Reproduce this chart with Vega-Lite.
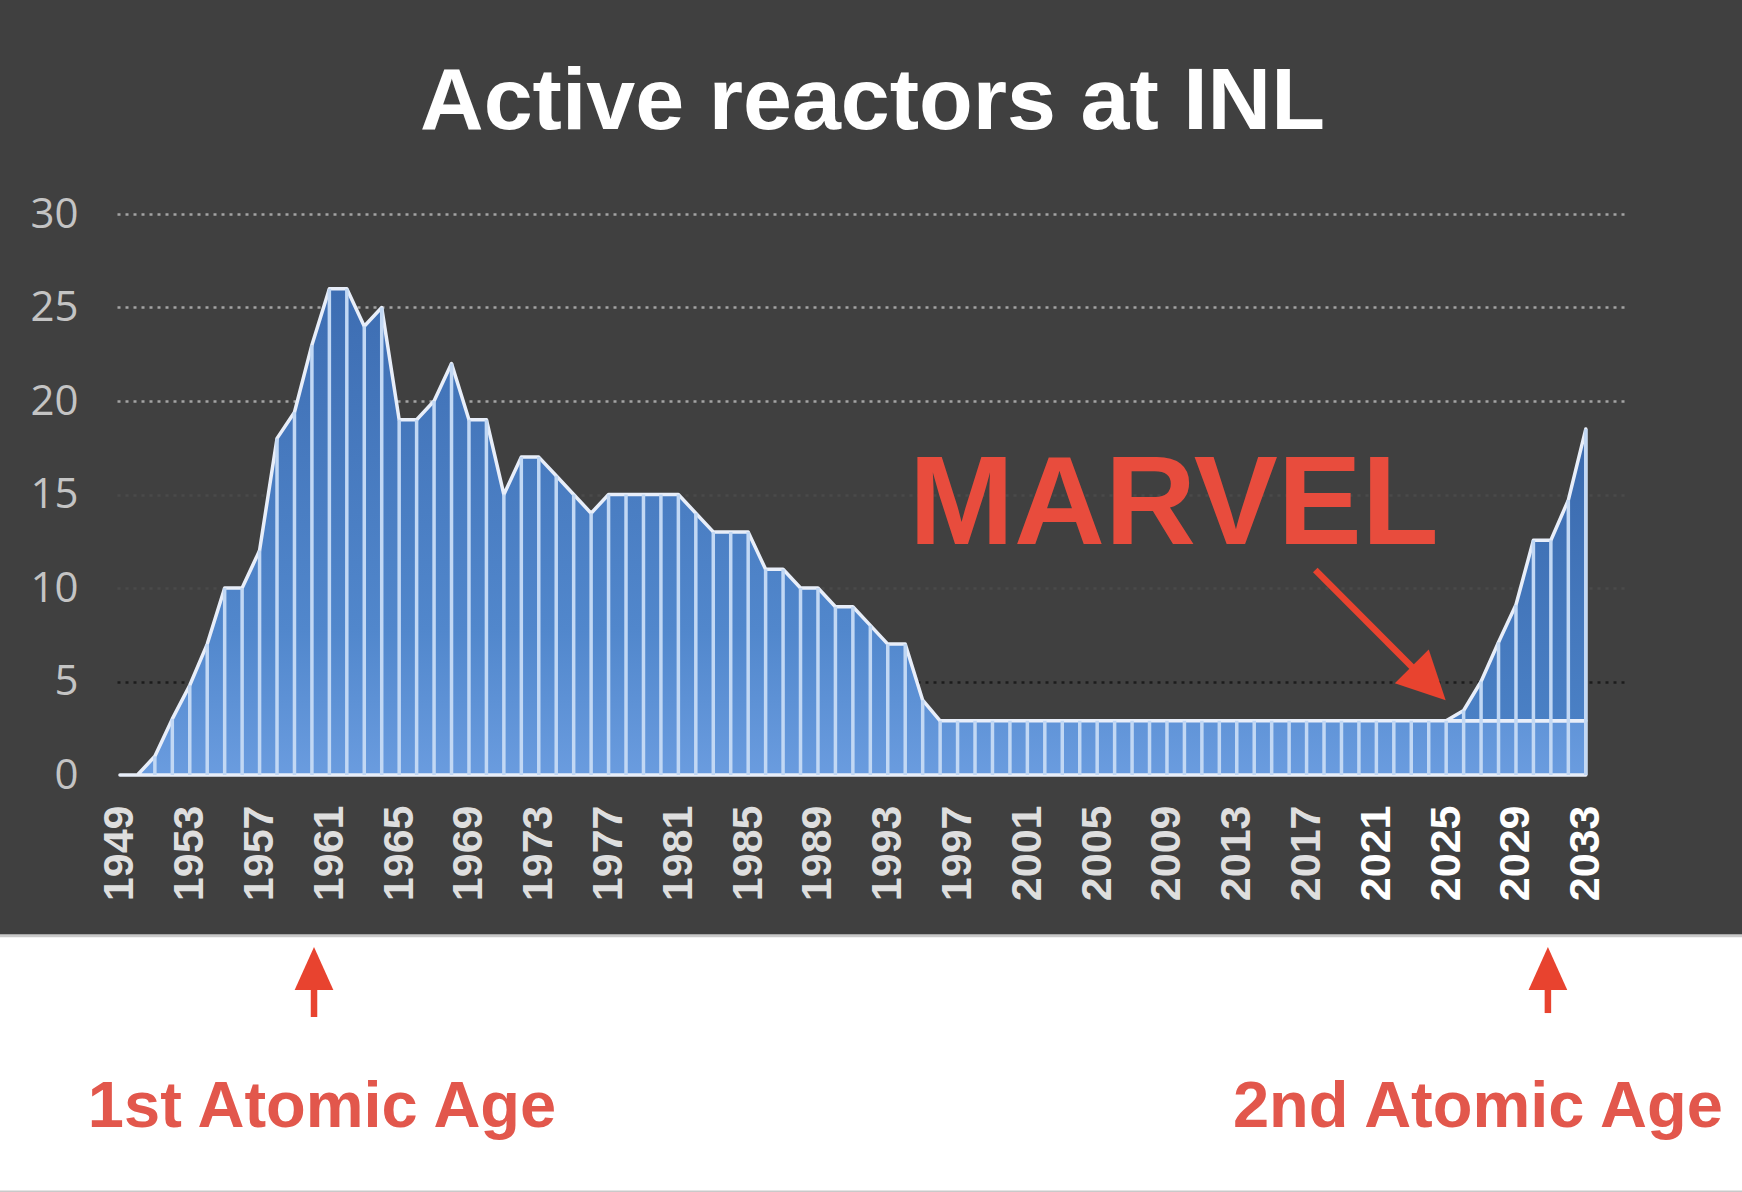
{
  "$schema": "https://vega.github.io/schema/vega-lite/v6.json",
  "description": "Active reactors at INL, 1949-2033, with the MARVEL start and the two atomic ages marked.",
  "width": 1511,
  "height": 561,
  "autosize": {"type": "none"},
  "padding": {"left": 117, "top": 214, "right": 114, "bottom": 417},
  "background": "#404040",
  "config": {"view": {"stroke": null}, "font": "Liberation Sans"},
  "title": {
    "text": "Active reactors at INL",
    "font": "Liberation Sans",
    "fontSize": 88,
    "fontWeight": "bold",
    "color": "#ffffff",
    "anchor": "middle",
    "frame": "group",
    "baseline": "alphabetic",
    "offset": -24
  },
  "resolve": {"axis": {"y": "independent"}},
  "datasets": {
    "reactors": [
      {"year": 1949, "total": 0, "base": 0},
      {"year": 1950, "total": 0, "base": 0},
      {"year": 1951, "total": 1, "base": 1},
      {"year": 1952, "total": 3, "base": 3},
      {"year": 1953, "total": 4.8, "base": 4.8},
      {"year": 1954, "total": 7, "base": 7},
      {"year": 1955, "total": 10, "base": 10},
      {"year": 1956, "total": 10, "base": 10},
      {"year": 1957, "total": 12, "base": 12},
      {"year": 1958, "total": 18, "base": 18},
      {"year": 1959, "total": 19.4, "base": 19.4},
      {"year": 1960, "total": 23, "base": 23},
      {"year": 1961, "total": 26, "base": 26},
      {"year": 1962, "total": 26, "base": 26},
      {"year": 1963, "total": 24, "base": 24},
      {"year": 1964, "total": 25, "base": 25},
      {"year": 1965, "total": 19, "base": 19},
      {"year": 1966, "total": 19, "base": 19},
      {"year": 1967, "total": 20, "base": 20},
      {"year": 1968, "total": 22, "base": 22},
      {"year": 1969, "total": 19, "base": 19},
      {"year": 1970, "total": 19, "base": 19},
      {"year": 1971, "total": 15, "base": 15},
      {"year": 1972, "total": 17, "base": 17},
      {"year": 1973, "total": 17, "base": 17},
      {"year": 1974, "total": 16, "base": 16},
      {"year": 1975, "total": 15, "base": 15},
      {"year": 1976, "total": 14, "base": 14},
      {"year": 1977, "total": 15, "base": 15},
      {"year": 1978, "total": 15, "base": 15},
      {"year": 1979, "total": 15, "base": 15},
      {"year": 1980, "total": 15, "base": 15},
      {"year": 1981, "total": 15, "base": 15},
      {"year": 1982, "total": 14, "base": 14},
      {"year": 1983, "total": 13, "base": 13},
      {"year": 1984, "total": 13, "base": 13},
      {"year": 1985, "total": 13, "base": 13},
      {"year": 1986, "total": 11, "base": 11},
      {"year": 1987, "total": 11, "base": 11},
      {"year": 1988, "total": 10, "base": 10},
      {"year": 1989, "total": 10, "base": 10},
      {"year": 1990, "total": 9, "base": 9},
      {"year": 1991, "total": 9, "base": 9},
      {"year": 1992, "total": 8, "base": 8},
      {"year": 1993, "total": 7, "base": 7},
      {"year": 1994, "total": 7, "base": 7},
      {"year": 1995, "total": 4, "base": 4},
      {"year": 1996, "total": 2.9, "base": 2.9},
      {"year": 1997, "total": 2.9, "base": 2.9},
      {"year": 1998, "total": 2.9, "base": 2.9},
      {"year": 1999, "total": 2.9, "base": 2.9},
      {"year": 2000, "total": 2.9, "base": 2.9},
      {"year": 2001, "total": 2.9, "base": 2.9},
      {"year": 2002, "total": 2.9, "base": 2.9},
      {"year": 2003, "total": 2.9, "base": 2.9},
      {"year": 2004, "total": 2.9, "base": 2.9},
      {"year": 2005, "total": 2.9, "base": 2.9},
      {"year": 2006, "total": 2.9, "base": 2.9},
      {"year": 2007, "total": 2.9, "base": 2.9},
      {"year": 2008, "total": 2.9, "base": 2.9},
      {"year": 2009, "total": 2.9, "base": 2.9},
      {"year": 2010, "total": 2.9, "base": 2.9},
      {"year": 2011, "total": 2.9, "base": 2.9},
      {"year": 2012, "total": 2.9, "base": 2.9},
      {"year": 2013, "total": 2.9, "base": 2.9},
      {"year": 2014, "total": 2.9, "base": 2.9},
      {"year": 2015, "total": 2.9, "base": 2.9},
      {"year": 2016, "total": 2.9, "base": 2.9},
      {"year": 2017, "total": 2.9, "base": 2.9},
      {"year": 2018, "total": 2.9, "base": 2.9},
      {"year": 2019, "total": 2.9, "base": 2.9},
      {"year": 2020, "total": 2.9, "base": 2.9},
      {"year": 2021, "total": 2.9, "base": 2.9},
      {"year": 2022, "total": 2.9, "base": 2.9},
      {"year": 2023, "total": 2.9, "base": 2.9},
      {"year": 2024, "total": 2.9, "base": 2.9},
      {"year": 2025, "total": 2.9, "base": 2.9},
      {"year": 2026, "total": 3.45, "base": 2.9},
      {"year": 2027, "total": 5, "base": 2.9},
      {"year": 2028, "total": 7.1, "base": 2.9},
      {"year": 2029, "total": 9.1, "base": 2.9},
      {"year": 2030, "total": 12.55, "base": 2.9},
      {"year": 2031, "total": 12.55, "base": 2.9},
      {"year": 2032, "total": 14.7, "base": 2.9},
      {"year": 2033, "total": 18.5, "base": 2.9}
    ],
    "notes": [
      {"kind": "panel", "year": 1930, "value": -8.6, "year2": 2060, "value2": -22.3},
      {"kind": "shaft", "year": 2017.5, "value": 10.96, "year2": 2023.9, "value2": 4.97},
      {"kind": "shaft", "year": 1960.12, "value": -10.35, "year2": 1960.12, "value2": -12.94},
      {"kind": "shaft", "year": 2030.83, "value": -10.35, "year2": 2030.83, "value2": -12.73},
      {"kind": "head_diag", "year": 2024.0, "value": 4.9},
      {"kind": "head_up", "year": 1960.12, "value": -10.35},
      {"kind": "head_up", "year": 2030.83, "value": -10.35},
      {"kind": "marvel", "label": "MARVEL", "year": 2009.4, "value": 12.35},
      {"kind": "age", "label": "1st Atomic Age", "year": 1960.58, "value": -18.82},
      {"kind": "age", "label": "2nd Atomic Age", "year": 2026.82, "value": -18.82}
    ]
  },
  "encoding": {
    "x": {
      "field": "year",
      "type": "quantitative",
      "scale": {"domain": [1948.83, 2035.42], "nice": false, "zero": false},
      "axis": {
        "values": [1949, 1953, 1957, 1961, 1965, 1969, 1973, 1977, 1981, 1985, 1989, 1993, 1997, 2001, 2005, 2009, 2013, 2017, 2021, 2025, 2029, 2033],
        "format": "d",
        "title": null,
        "domain": false,
        "ticks": false,
        "tickSize": 0,
        "grid": false,
        "labelAngle": -90,
        "labelPadding": 30,
        "labelFont": "Liberation Sans",
        "labelFontSize": 43,
        "labelFontWeight": "bold",
        "labelColor": {"condition": {"test": "datum.value >= 2021", "value": "#ffffff"}, "value": "#dedede"},
        "labelFlush": false,
        "labelOverlap": false,
        "labelBound": false
      }
    }
  },
  "layer": [
    {
      "data": {"name": "reactors"},
      "mark": {
        "type": "area",
        "fill": {
          "gradient": "linear", "x1": 0, "y1": 1, "x2": 0, "y2": 0,
          "stops": [
            {"offset": 0, "color": "#6a9cdf"},
            {"offset": 0.3, "color": "#5187cc"},
            {"offset": 1, "color": "#3d6db2"}
          ]
        },
        "stroke": "#e8eef9",
        "strokeWidth": 3.5,
        "strokeJoin": "round"
      },
      "encoding": {
        "y": {
          "field": "base",
          "type": "quantitative",
          "stack": null,
          "scale": {"domain": [0, 30], "nice": false, "zero": true},
          "axis": {
            "values": [0, 5, 10, 15, 20, 25, 30],
            "title": null,
            "domain": false,
            "ticks": false,
            "tickSize": 0,
            "labelPadding": 39,
            "labelFont": "Open Sans",
            "labelFontSize": 42,
            "labelColor": "#c4c4c4",
            "labelFlush": false,
            "gridDash": [3, 5],
            "gridWidth": 2.5,
            "gridColor": {
              "condition": [
                {"test": "datum.value === 0", "value": "rgba(0,0,0,0)"},
                {"test": "datum.value === 5", "value": "#1c1c1c"},
                {"test": "datum.value === 10 || datum.value === 15", "value": "#4a4a4a"}
              ],
              "value": "#a3a3a3"
            }
          }
        }
      }
    },
    {
      "data": {"name": "reactors"},
      "transform": [{"filter": "datum.year >= 2025"}],
      "mark": {
        "type": "area",
        "fill": {
          "gradient": "linear", "x1": 0, "y1": 1, "x2": 0, "y2": 0,
          "stops": [
            {"offset": 0, "color": "#4a80c5"},
            {"offset": 1, "color": "#3a69ad"}
          ]
        },
        "stroke": "#e8eef9",
        "strokeWidth": 3.5,
        "strokeJoin": "round"
      },
      "encoding": {
        "y": {"field": "total", "type": "quantitative", "scale": {"domain": [0, 30], "nice": false}, "axis": null},
        "y2": {"field": "base"}
      }
    },
    {
      "data": {"name": "reactors"},
      "mark": {"type": "rule", "color": "#c2d8f4", "strokeWidth": 3.5},
      "encoding": {
        "y": {"field": "total", "type": "quantitative", "scale": {"domain": [0, 30], "nice": false}, "axis": null},
        "y2": {"datum": 0}
      }
    },
    {
      "data": {"name": "notes"},
      "transform": [{"filter": "datum.kind === 'panel'"}],
      "mark": {"type": "rect", "fill": "#ffffff", "stroke": "#c9c9c9", "strokeWidth": 3},
      "encoding": {
        "x2": {"field": "year2"},
        "y": {"field": "value", "type": "quantitative", "scale": {"domain": [0, 30], "nice": false}, "axis": null},
        "y2": {"field": "value2"}
      }
    },
    {
      "data": {"name": "notes"},
      "transform": [{"filter": "datum.kind === 'shaft'"}],
      "mark": {"type": "rule", "color": "#e8432f", "strokeWidth": 6.5},
      "encoding": {
        "x2": {"field": "year2"},
        "y": {"field": "value", "type": "quantitative", "scale": {"domain": [0, 30], "nice": false}, "axis": null},
        "y2": {"field": "value2"}
      }
    },
    {
      "data": {"name": "notes"},
      "transform": [{"filter": "datum.kind === 'head_up'"}],
      "mark": {"type": "point", "shape": "M0,-1L0.9,1L-0.9,1Z", "filled": true, "opacity": 1, "size": 1849, "color": "#e8432f"},
      "encoding": {
        "y": {"field": "value", "type": "quantitative", "scale": {"domain": [0, 30], "nice": false}, "axis": null}
      }
    },
    {
      "data": {"name": "notes"},
      "transform": [{"filter": "datum.kind === 'head_diag'"}],
      "mark": {"type": "point", "shape": "M0,-1L1,1L-1,1Z", "filled": true, "opacity": 1, "size": 2300, "angle": 135, "color": "#e8432f"},
      "encoding": {
        "y": {"field": "value", "type": "quantitative", "scale": {"domain": [0, 30], "nice": false}, "axis": null}
      }
    },
    {
      "data": {"name": "notes"},
      "transform": [{"filter": "datum.kind === 'marvel'"}],
      "mark": {"type": "text", "font": "Liberation Sans", "fontSize": 126, "fontWeight": "bold", "color": "#e84c3d", "align": "center", "baseline": "alphabetic"},
      "encoding": {
        "y": {"field": "value", "type": "quantitative", "scale": {"domain": [0, 30], "nice": false}, "axis": null},
        "text": {"field": "label"}
      }
    },
    {
      "data": {"name": "notes"},
      "transform": [{"filter": "datum.kind === 'age'"}],
      "mark": {"type": "text", "font": "Liberation Sans", "fontSize": 65, "fontWeight": "bold", "color": "#e2574c", "align": "center", "baseline": "alphabetic"},
      "encoding": {
        "y": {"field": "value", "type": "quantitative", "scale": {"domain": [0, 30], "nice": false}, "axis": null},
        "text": {"field": "label"}
      }
    }
  ]
}
